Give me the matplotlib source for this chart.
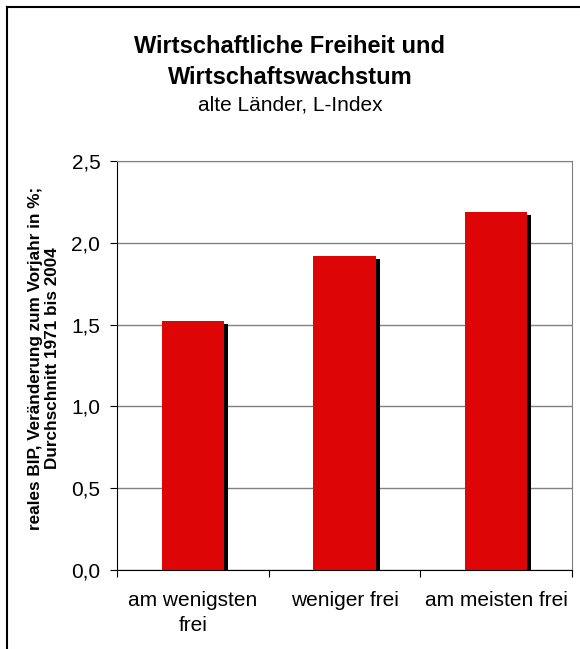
import matplotlib
matplotlib.use('Agg')
import matplotlib.pyplot as plt
from matplotlib.lines import Line2D
from matplotlib.transforms import ScaledTranslation

plt.rcParams['font.family'] = ['Liberation Sans', 'DejaVu Sans']

# Daten
kategorien = ['am wenigsten\nfrei', 'weniger frei', 'am meisten frei']
werte = [1.52, 1.92, 2.19]
y_ticks = [0.0, 0.5, 1.0, 1.5, 2.0, 2.5]
y_tick_labels = ['0,0', '0,5', '1,0', '1,5', '2,0', '2,5']

fig = plt.figure(figsize=(5.8, 6.49), dpi=100)
ax = fig.add_axes([117/580, 1 - 570/649, 455/580, 409/649])

x = list(range(len(kategorien)))
breite = 0.41

# Schatten hinter den Balken
schatten = ax.transData + ScaledTranslation(4/100, -3/100, fig.dpi_scale_trans)
ax.bar(x, werte, width=breite, color='black', transform=schatten, zorder=2)
ax.bar(x, werte, width=breite, color='#DD0505', zorder=3)

ax.set_xlim(-0.5, 2.5)
ax.set_ylim(0, 2.5)
ax.set_yticks(y_ticks)
ax.set_yticklabels(y_tick_labels, fontsize=15)
ax.yaxis.grid(True, color='#808080', linewidth=1)
ax.set_axisbelow(True)

ax.set_xticks([-0.5, 0.5, 1.5, 2.5])
ax.set_xticklabels([])
ax.set_xticks(x, minor=True)
ax.set_xticklabels(kategorien, minor=True, fontsize=15, linespacing=1.4)
ax.tick_params(axis='x', which='minor', length=0, pad=15)
ax.tick_params(axis='x', which='major', direction='out', length=5, color='black')
ax.tick_params(axis='y', direction='out', length=5, pad=7, color='black')

for s in ['top', 'right']:
    ax.spines[s].set_color('#808080')
for s in ['left', 'bottom']:
    ax.spines[s].set_color('black')

fig.text(44/580, 1 - 358/649, 'reales BIP, Veränderung zum Vorjahr in %;\nDurchschnitt 1971 bis 2004',
         rotation=90, ha='center', va='center', fontsize=12.3, fontweight='bold', linespacing=1.1)

fig.text(290/580, 1 - 62/649, 'Wirtschaftliche Freiheit und\nWirtschaftswachstum',
         ha='center', va='center', fontsize=17, fontweight='bold', linespacing=1.4)
fig.text(290/580, 1 - 105/649, 'alte Länder, L-Index', ha='center', va='center', fontsize=15)

# Rahmen
fig.add_artist(Line2D([7/580, 7/580], [0, 1 - 7/649], color='black', linewidth=1.5))
fig.add_artist(Line2D([7/580, 1], [1 - 7/649, 1 - 7/649], color='black', linewidth=1.5))

fig.savefig('out.png', dpi=100)
